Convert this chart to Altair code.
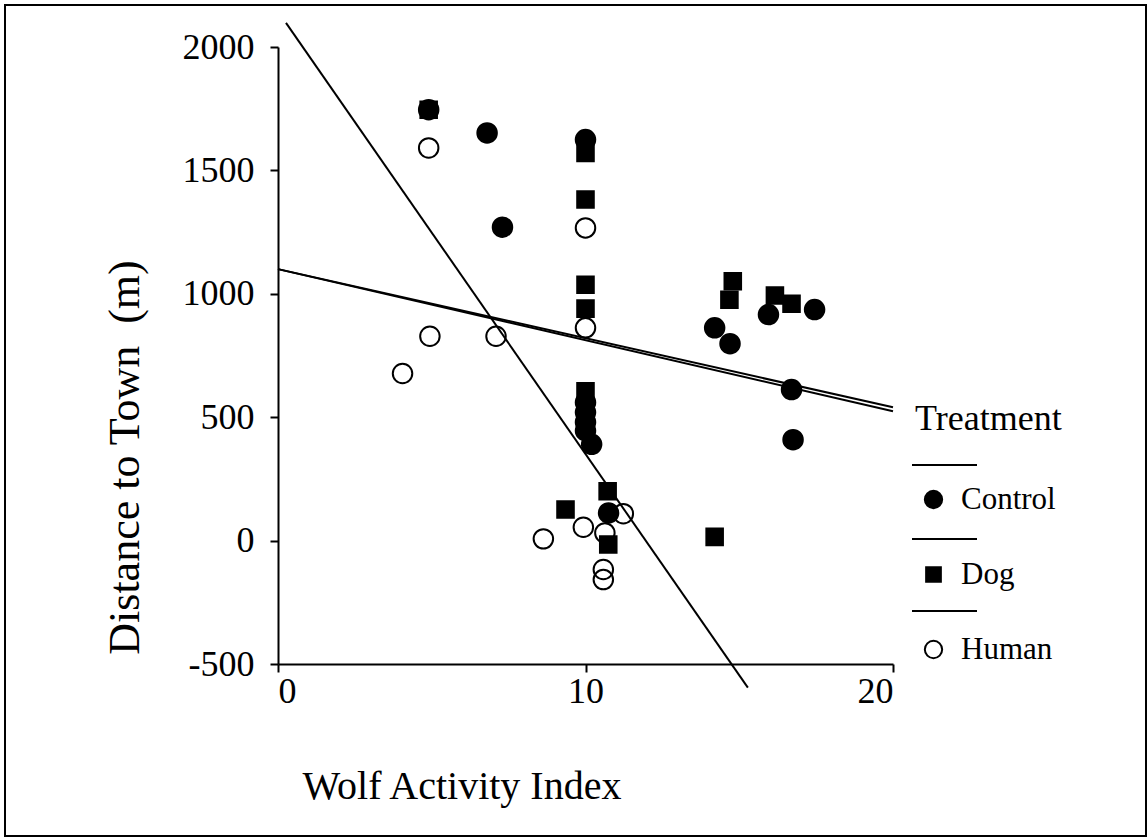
import altair as alt
import pandas as pd

FONT = "Liberation Serif"

# Wolf activity vs distance to town, by treatment
treatments = ["Control", "Dog", "Human"]

control_x = [4.9, 6.8, 7.3, 10.0, 10.0, 10.0, 10.0, 10.0, 10.2, 10.75, 14.2, 14.7, 15.95, 17.45, 16.7, 16.75]
control_y = [1746, 1652, 1270, 1625, 560, 520, 480, 445, 390, 112, 862, 798, 916, 936, 612, 409]

dog_x = [4.9, 10.0, 10.0, 10.0, 10.0, 10.0, 10.72, 9.35, 10.74, 14.2, 14.79, 14.68, 16.16, 16.7]
dog_y = [1746, 1571, 1382, 1037, 940, 605, 200, 126, -16, 15, 1051, 976, 993, 960]

human_x = [4.9, 10.0, 10.0, 4.94, 7.09, 4.05, 11.23, 9.93, 10.63, 8.63, 10.58, 10.58]
human_y = [1591, 1267, 862, 828, 828, 677, 109, 54, 31, 7, -117, -158]

# Fitted regression lines (end points) per treatment
fit_x_start = [0.0, 0.0, 0.26]
fit_x_end = [20.0, 20.0, 15.28]
fit_y_start = [1100, 1100, 2098]
fit_y_end = [524, 540, -596]

x_ticks = [0, 10, 20]
y_ticks = [-500, 0, 500, 1000, 1500, 2000]

pts = pd.concat([
    pd.DataFrame({"x": control_x, "y": control_y, "Treatment": "Control"}),
    pd.DataFrame({"x": dog_x, "y": dog_y, "Treatment": "Dog"}),
    pd.DataFrame({"x": human_x, "y": human_y, "Treatment": "Human"}),
], ignore_index=True)

fits = pd.DataFrame({
    "Treatment": treatments,
    "x": fit_x_start, "x_end": fit_x_end,
    "y": fit_y_start, "y_end": fit_y_end,
})

x_scale = alt.Scale(domain=[0, 20], nice=False, zero=False)
y_scale = alt.Scale(domain=[-500, 2000], nice=False, zero=False)

x_axis = alt.Axis(
    values=x_ticks, labelExpr="'' + datum.value", grid=False,
    domainColor="black", domainWidth=2, tickColor="black", tickWidth=2, tickSize=8,
    labelFont=FONT, labelFontSize=36, labelColor="black", labelPadding=2,
    title="Wolf Activity Index", titleFont=FONT, titleFontSize=40, titleFontWeight="normal",
    titleColor="black", titleX=24, titleY=134, titleAlign="left", titleBaseline="alphabetic",
)
y_axis = alt.Axis(
    values=y_ticks, labelExpr="'' + datum.value", grid=False,
    domainColor="black", domainWidth=2, tickColor="black", tickWidth=2, tickSize=8,
    labelFont=FONT, labelFontSize=36, labelColor="black", labelPadding=16,
    title="Distance to Town\u00a0 (m)", titleFont=FONT, titleFontSize=44, titleFontWeight="normal",
    titleColor="black", titleAngle=270, titleX=-140, titleY=410, titleAlign="center",
    titleBaseline="alphabetic",
)

legend = alt.Legend(
    title="Treatment", orient="none", legendX=637, legendY=355, padding=0,
    titleFont=FONT, titleFontSize=36, titleFontWeight="normal", titleColor="black",
    titlePadding=46, labelFont=FONT, labelFontSize=31, labelColor="black",
    rowPadding=43, symbolOffset=3, labelOffset=12, symbolSize=300,
    symbolStrokeWidth=2,
)

# slightly smaller square than the built-in one
SQUARE = "M-0.85,-0.85L0.85,-0.85L0.85,0.85L-0.85,0.85Z"

fit_lines = alt.Chart(fits).mark_rule(color="black", strokeWidth=2, clip=False).encode(
    x=alt.X("x:Q", scale=x_scale, axis=x_axis),
    x2="x_end:Q",
    y=alt.Y("y:Q", scale=y_scale, axis=y_axis),
    y2="y_end:Q",
)

points = alt.Chart(pts).mark_point(filled=True, opacity=1, strokeWidth=2, size=380, clip=False).encode(
    x=alt.X("x:Q", scale=x_scale, axis=x_axis),
    y=alt.Y("y:Q", scale=y_scale, axis=y_axis),
    shape=alt.Shape("Treatment:N", scale=alt.Scale(domain=treatments, range=["circle", SQUARE, "circle"]), legend=legend),
    fill=alt.Fill("Treatment:N", scale=alt.Scale(domain=treatments, range=["black", "black", "transparent"]), legend=legend),
    stroke=alt.Stroke("Treatment:N", scale=alt.Scale(domain=treatments, range=["black", "black", "black"]), legend=legend),
)

# short rules above each legend entry
def legend_rule(ypix):
    return alt.Chart(fits).mark_rule(color="black", strokeWidth=2).encode(
        x=alt.value(634), x2=alt.value(699), y=alt.value(ypix), y2=alt.value(ypix)
    )

frame = alt.Chart(fits).mark_rect(fillOpacity=0, stroke="black", strokeWidth=2).encode(
    x=alt.value(-273), x2=alt.value(868), y=alt.value(-42), y2=alt.value(789)
)

chart = alt.layer(
    fit_lines, points, legend_rule(418), legend_rule(492), legend_rule(564), frame
).properties(
    width=615, height=617,
    autosize=alt.AutoSizeParams(type="none"),
    padding={"left": 278, "top": 47, "right": 255, "bottom": 174},
    background="white",
).configure_view(strokeWidth=0)

chart.save("out.html", embed_options={"renderer": "svg", "actions": False})
